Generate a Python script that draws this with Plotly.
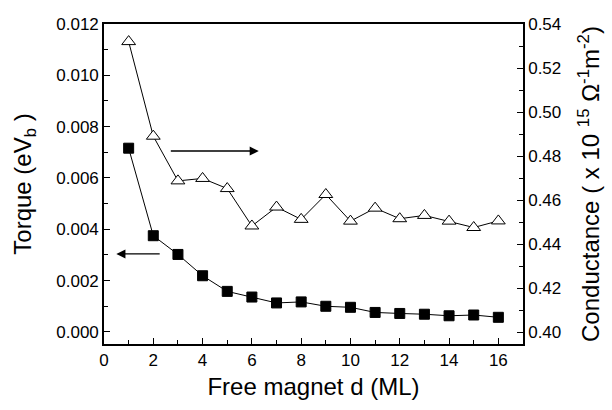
import plotly.graph_objects as go

d = list(range(1, 17))
torque = [0.00716, 0.00375, 0.00302, 0.00219, 0.00158, 0.00136, 0.00113, 0.00117,
          0.00100, 0.00096, 0.00076, 0.00072, 0.00069, 0.00063, 0.00066, 0.00057]
conductance = [0.5320, 0.4890, 0.4687, 0.4698, 0.4652, 0.4482, 0.4568, 0.4512,
               0.4625, 0.4504, 0.4563, 0.4515, 0.4530, 0.4504, 0.4475, 0.4505]

FONT = "Liberation Sans, Arial, sans-serif"

fig = go.Figure()
fig.add_trace(go.Scatter(
    x=d, y=torque, mode="lines+markers", yaxis="y",
    line=dict(color="black", width=1),
    marker=dict(symbol="square", size=10, color="black", line=dict(color="black", width=1)),
    showlegend=False))
fig.add_trace(go.Scatter(
    x=d, y=conductance, mode="lines+markers", yaxis="y2",
    line=dict(color="black", width=1),
    marker=dict(symbol="triangle-up", size=12, color="white", line=dict(color="black", width=1)),
    showlegend=False))

axis_common = dict(showline=True, linecolor="black", linewidth=1.6, ticks="inside",
                   ticklen=6, tickwidth=1.2, tickcolor="black", showgrid=False,
                   zeroline=False, tickfont=dict(family=FONT, size=17, color="black"))

fig.update_layout(
    width=612, height=410,
    margin=dict(l=104, r=86, t=24, b=66),
    paper_bgcolor="white", plot_bgcolor="white",
    font=dict(family=FONT, color="black"),
    xaxis=dict(range=[0, 17], dtick=2, tick0=0, mirror=True,
               minor=dict(ticks="inside", ticklen=4, dtick=1, tickcolor="black", tickwidth=1.2),
               title=dict(text="Free magnet d (ML)", font=dict(family=FONT, size=24), standoff=9),
               **axis_common),
    yaxis=dict(range=[-0.00047, 0.012], dtick=0.002, tick0=0, tickformat=".3f",
               minor=dict(ticks="inside", ticklen=4, dtick=0.001, tickcolor="black", tickwidth=1.2),
               title=dict(text="Torque (eV<sub>b</sub> )", font=dict(family=FONT, size=24), standoff=18),
               **axis_common),
    yaxis2=dict(range=[0.39455, 0.54], dtick=0.02, tick0=0.40, tickformat=".2f",
                overlaying="y", side="right",
                minor=dict(ticks="inside", ticklen=4, dtick=0.01, tickcolor="black", tickwidth=1.2),
                title=dict(text="Conductance ( x 10 <sup>15</sup> \u03a9<sup>-1</sup>m<sup>-2</sup>)",
                           font=dict(family=FONT, size=24), standoff=22),
                **axis_common),
)

fig.add_annotation(x=6.28, y=0.00705, ax=2.65, ay=0.00705, xref="x", yref="y",
                   axref="x", ayref="y", text="", showarrow=True, arrowhead=2,
                   arrowsize=1.4, arrowwidth=1.3, arrowcolor="black")
fig.add_annotation(x=0.50, y=0.00304, ax=2.32, ay=0.00304, xref="x", yref="y",
                   axref="x", ayref="y", text="", showarrow=True, arrowhead=2,
                   arrowsize=1.4, arrowwidth=1.3, arrowcolor="black")

fig.write_html("out.html")
